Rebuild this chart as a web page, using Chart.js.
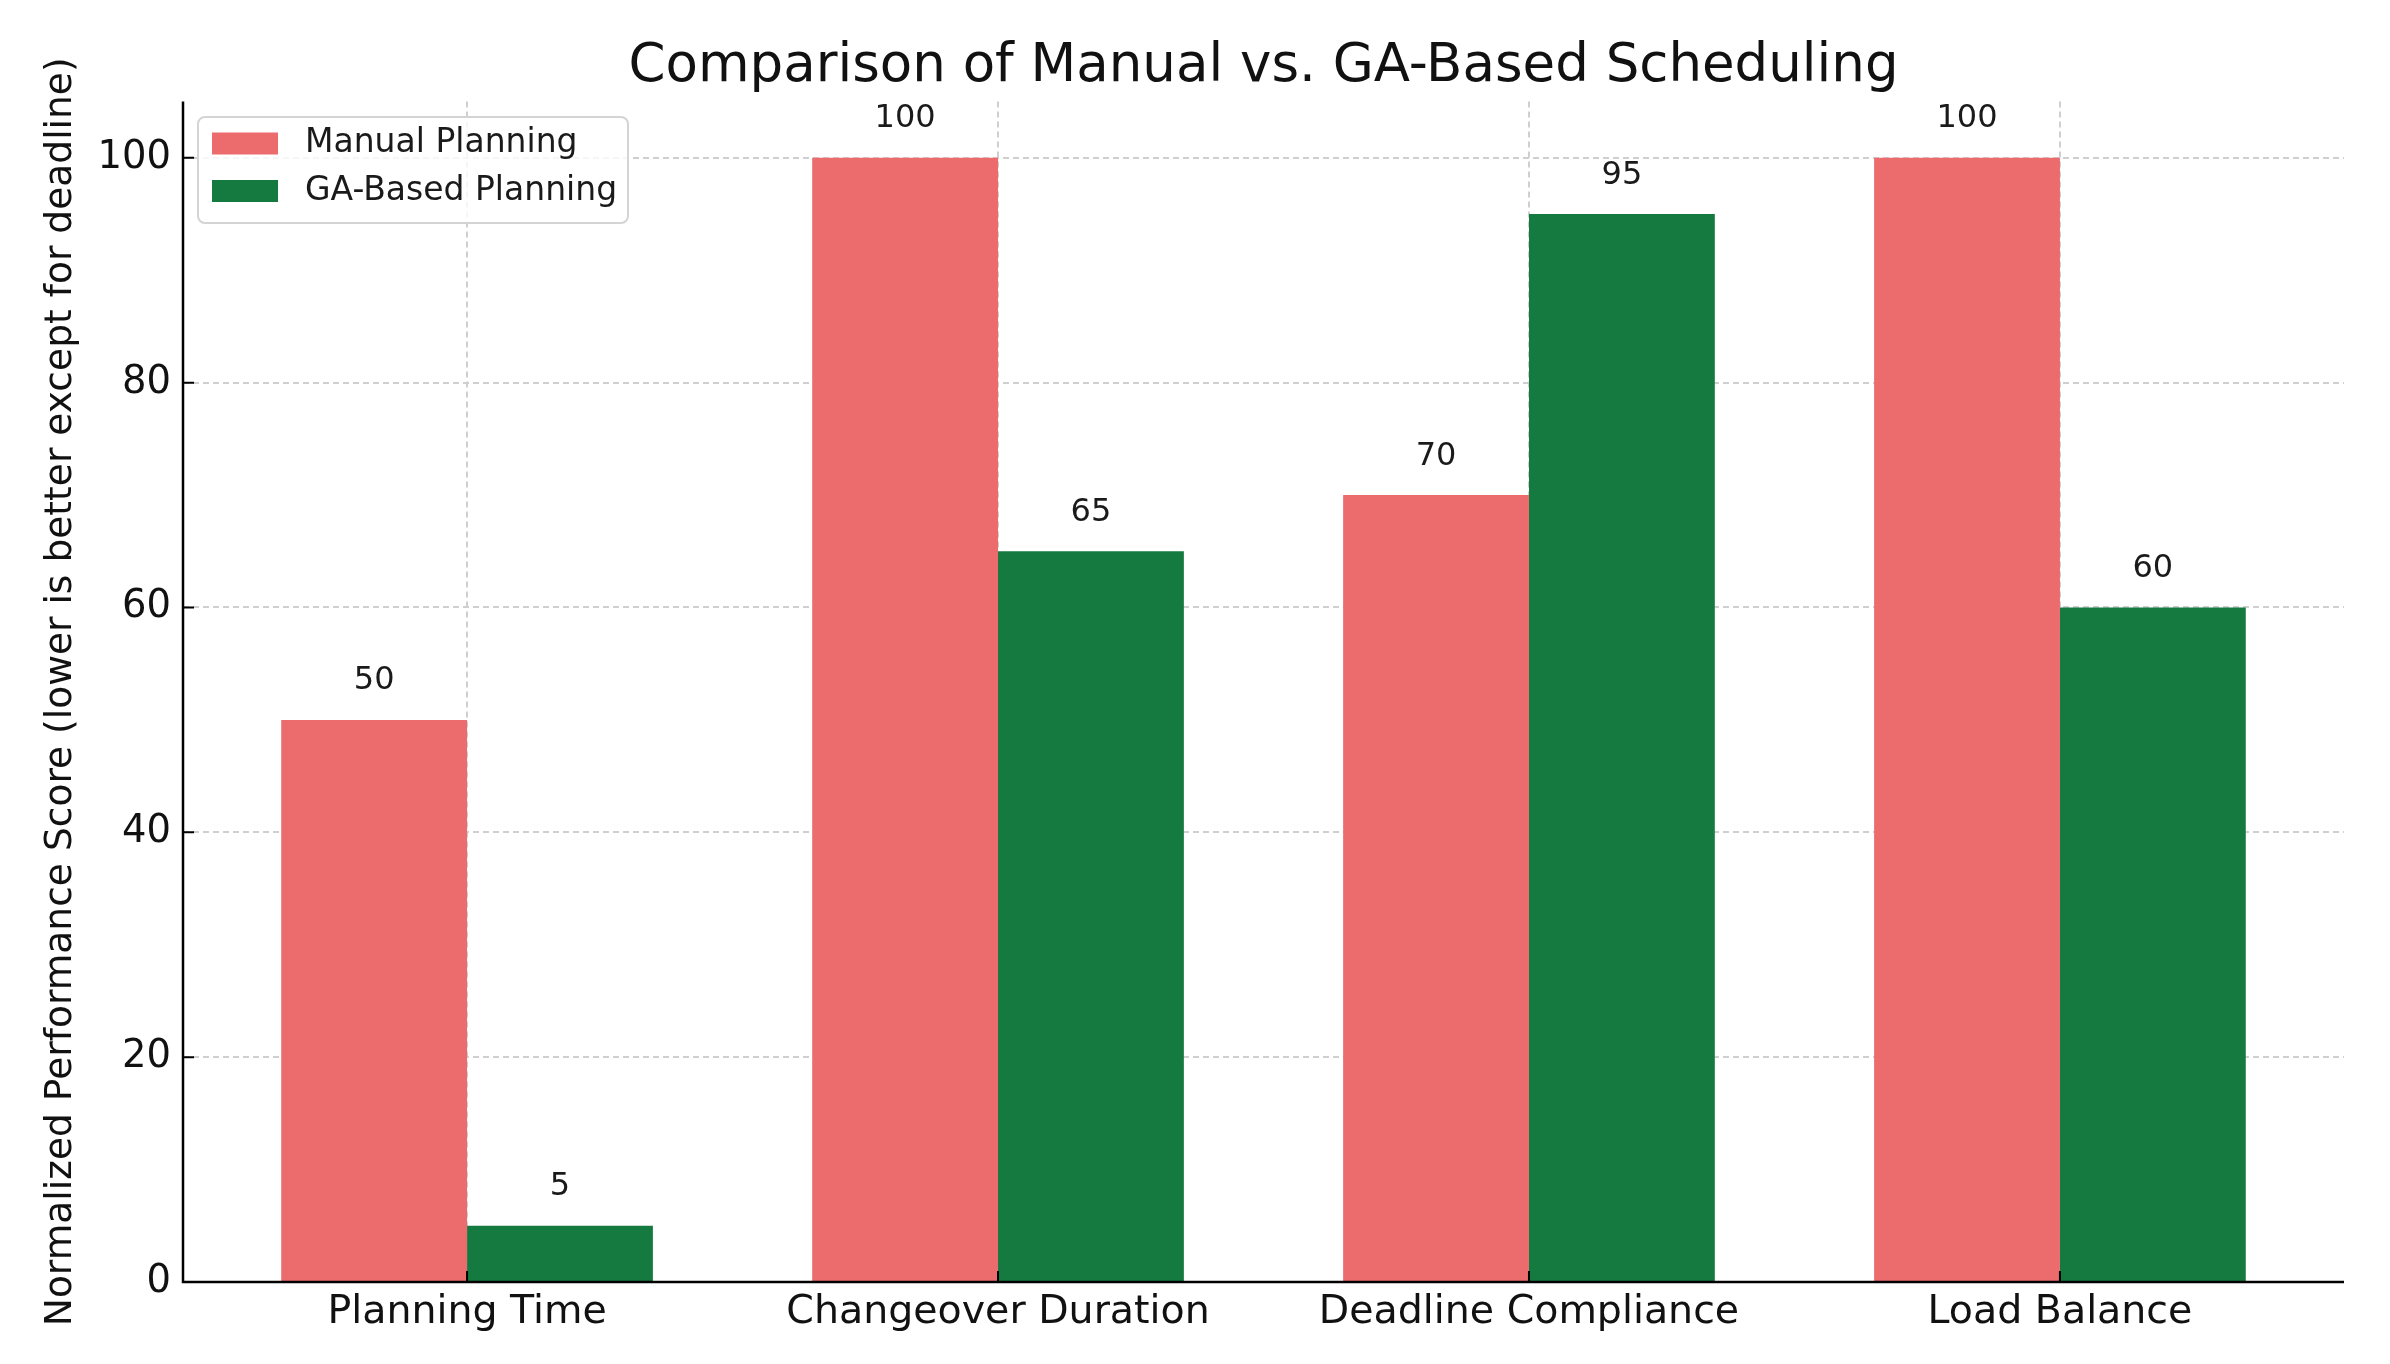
<!DOCTYPE html>
<html>
<head>
<meta charset="utf-8">
<script src="https://cdn.jsdelivr.net/npm/chart.js@4.4.1/dist/chart.umd.min.js"></script>
<style>
  html, body { margin: 0; padding: 0; background: #fff; }
  #wrap { width: 2390px; height: 1364px; }
</style>
</head>
<body>
<div id="wrap"><canvas id="chart"></canvas></div>
<script>
// data
var categories = ['Planning Time', 'Changeover Duration', 'Deadline Compliance', 'Load Balance'];
var manualScores = [50, 100, 70, 100];
var gaScores = [5, 65, 95, 60];
var yTicks = [0, 20, 40, 60, 80, 100];
var seriesNames = ['Manual Planning', 'GA-Based Planning'];

var manualColor = '#ec6b6d';
var gaColor = '#157a3f';
var font = 'DejaVu Sans';

var toPoints = (values) => values.map((v, i) => ({ x: i, y: v }));

// spines + inward tick marks, drawn over the bars like matplotlib does
var spinesPlugin = {
  id: 'spines',
  afterDatasetsDraw: (chart) => {
    const ctx = chart.ctx;
    const area = chart.chartArea;
    const xs = chart.scales.x;
    const ys = chart.scales.y;
    ctx.save();
    ctx.strokeStyle = '#000';
    ctx.lineWidth = 2.5;
    ctx.beginPath();
    ctx.moveTo(area.left, area.top);
    ctx.lineTo(area.left, area.bottom);
    ctx.lineTo(area.right, area.bottom);
    ctx.stroke();
    ctx.lineWidth = 2;
    ctx.beginPath();
    yTicks.forEach((v) => {
      const y = ys.getPixelForValue(v);
      ctx.moveTo(area.left, y);
      ctx.lineTo(area.left + 11, y);
    });
    categories.forEach((c, i) => {
      const x = xs.getPixelForValue(i);
      ctx.moveTo(x, area.bottom);
      ctx.lineTo(x, area.bottom - 11);
    });
    ctx.stroke();
    ctx.restore();
  }
};

// numbers above each bar
var valueLabels = {
  id: 'valueLabels',
  afterDatasetsDraw: (chart) => {
    const ctx = chart.ctx;
    const ys = chart.scales.y;
    ctx.save();
    ctx.font = '32px "' + font + '"';
    ctx.fillStyle = '#1a1a1a';
    ctx.textAlign = 'center';
    ctx.textBaseline = 'alphabetic';
    chart.data.datasets.forEach((ds, d) => {
      chart.getDatasetMeta(d).data.forEach((bar, i) => {
        const v = ds.data[i].y;
        ctx.fillText(String(v), bar.x, ys.getPixelForValue(v + 2) - 8);
      });
    });
    ctx.restore();
  }
};

// framed legend in the upper left corner
var boxLegend = {
  id: 'boxLegend',
  afterDraw: (chart) => {
    const ctx = chart.ctx;
    const x = 198, y = 117, w = 430, h = 106, r = 7;
    ctx.save();
    ctx.fillStyle = 'rgba(255,255,255,0.8)';
    ctx.strokeStyle = '#d4d4d4';
    ctx.lineWidth = 2;
    ctx.beginPath();
    ctx.roundRect(x, y, w, h, r);
    ctx.fill();
    ctx.stroke();
    const colors = [manualColor, gaColor];
    const rows = [143.5, 191];
    ctx.font = '33px "' + font + '"';
    ctx.textAlign = 'left';
    ctx.textBaseline = 'middle';
    seriesNames.forEach((name, i) => {
      ctx.fillStyle = colors[i];
      ctx.fillRect(212, rows[i] - 11, 66, 22);
      ctx.fillStyle = '#1a1a1a';
      ctx.fillText(name, 305, rows[i]);
    });
    ctx.restore();
  }
};

var gridOpts = {
  color: '#cfcfcf',
  lineWidth: 2,
  drawTicks: false,
  offset: false
};

var chart = new Chart(document.getElementById('chart'), {
  type: 'bar',
  data: {
    datasets: [
      {
        label: seriesNames[0],
        data: toPoints(manualScores),
        backgroundColor: manualColor,
        borderWidth: 0,
        categoryPercentage: 0.7,
        barPercentage: 1.0
      },
      {
        label: seriesNames[1],
        data: toPoints(gaScores),
        backgroundColor: gaColor,
        borderWidth: 0,
        categoryPercentage: 0.7,
        barPercentage: 1.0
      }
    ]
  },
  options: {
    responsive: true,
    maintainAspectRatio: false,
    devicePixelRatio: 1,
    animation: false,
    layout: { padding: { left: 0, right: 46, top: 0, bottom: 0 } },
    plugins: {
      legend: { display: false },
      tooltip: { enabled: false },
      title: {
        display: true,
        text: 'Comparison of Manual vs. GA-Based Scheduling',
        fullSize: false,
        color: '#111',
        font: { family: font, size: 53, weight: 'normal', lineHeight: 1.2 },
        padding: { top: 35, bottom: 3 }
      }
    },
    scales: {
      x: {
        type: 'linear',
        min: -0.535,
        max: 3.535,
        offset: false,
        afterBuildTicks: (scale) => {
          scale.ticks = categories.map((c, i) => ({ value: i }));
        },
        afterFit: (scale) => { scale.height = 82; },
        grid: gridOpts,
        border: { display: false, dash: [6, 4] },
        ticks: {
          color: '#111',
          padding: 7,
          maxRotation: 0,
          autoSkip: false,
          font: { family: font, size: 39.5 },
          callback: (v) => categories[v]
        }
      },
      y: {
        min: 0,
        max: 105,
        afterBuildTicks: (scale) => {
          scale.ticks = yTicks.map((v) => ({ value: v }));
        },
        afterFit: (scale) => { scale.width = 183; },
        grid: gridOpts,
        border: { display: false, dash: [6, 4] },
        ticks: {
          color: '#111',
          padding: 12,
          font: { family: font, size: 38.5 }
        },
        title: {
          display: true,
          text: 'Normalized Performance Score (lower is better except for deadline)',
          color: '#111',
          font: { family: font, size: 37.6, lineHeight: 1.2 },
          padding: { top: 39, bottom: 0 }
        }
      }
    }
  },
  plugins: [spinesPlugin, valueLabels, boxLegend]
});
</script>
</body>
</html>
